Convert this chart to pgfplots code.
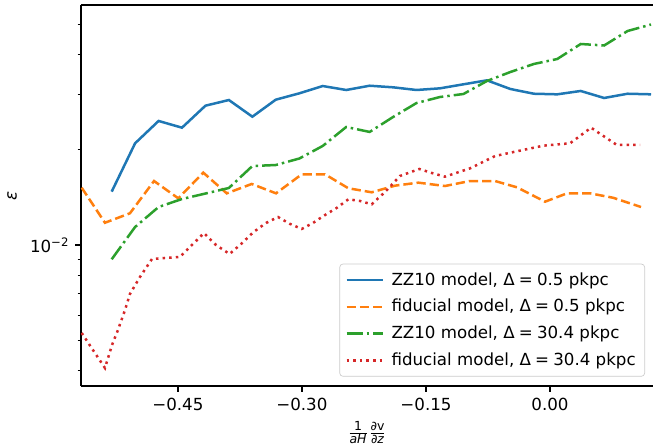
\documentclass[border=0pt]{standalone}
\usepackage{fontspec}
\setmainfont{DejaVu Sans}
\usepackage{pgfplots}
\pgfplotsset{compat=1.18}
\definecolor{tabblue}{HTML}{1F77B4}
\definecolor{taborange}{HTML}{FF7F0E}
\definecolor{tabgreen}{HTML}{2CA02C}
\definecolor{tabred}{HTML}{D62728}
\newcommand{\eqsp}{\hspace{0.25em}=\hspace{0.25em}}
\begin{document}
\begin{tikzpicture}
\begin{axis}[
  scale only axis,
  width=343.2pt, height=228.6pt,
  ymode=log,
  xmin=-0.5671, xmax=0.1245,
  ymin=0.003579, ymax=0.05748,
  axis y line*=left,
  axis line style={line width=0.8pt},
  xtick pos=left, ytick pos=left,
  tick align=outside,
  major tick length=3.5pt, minor tick length=2pt,
  every tick/.style={black, line width=0.8pt},
  every minor tick/.style={black, line width=0.6pt},
  xtick={-0.45,-0.3,-0.15,0},
  xticklabels={−0.45,−0.30,−0.15,0.00},
  ytick={0.01},
  yticklabels={10\textsuperscript{−2}},
  minor ytick={0.004,0.005,0.006,0.007,0.008,0.009,0.02,0.03,0.04,0.05},
  tick label style={font=\fontsize{10}{12}\selectfont},
  xlabel={$\frac{\mbox{\fontsize{7.5}{8}\selectfont 1}}{\mbox{\fontsize{7.5}{8}\selectfont\itshape aH}}\frac{\mbox{\fontsize{7.5}{8}\selectfont ∂v}}{\mbox{\fontsize{7.5}{8}\selectfont ∂\itshape z}}$},
  every axis x label/.style={at={(axis description cs:0.5,0)}, anchor=center, yshift=-27.9pt},
  ylabel={\itshape ε},
  every axis y label/.style={at={(axis description cs:0,0.5)}, anchor=center, xshift=-41.4pt, rotate=90},
  legend style={at={(1,0)}, anchor=south east, xshift=-4.8pt, yshift=5.6pt,
    draw=black!20, rounded corners=2pt, fill=white, fill opacity=0.8, text opacity=1,
    font=\fontsize{10}{12}\selectfont, row sep=3pt, column sep=2.6pt, inner xsep=3.4pt, inner ysep=3pt},
  legend cell align=left,
  legend image code/.code={\draw[#1] (0pt,0pt) -- (21.6pt,0pt);},
]
\addplot[tabblue, line width=1.5pt] coordinates {
(-0.5300,0.01475) (-0.5017,0.02098) (-0.4733,0.02469) (-0.4450,0.02351) (-0.4166,0.02760) (-0.3883,0.02876) (-0.3599,0.02547) (-0.3316,0.02883) (-0.3031,0.03020) (-0.2748,0.03185) (-0.2464,0.03094) (-0.2181,0.03192) (-0.1897,0.03155) (-0.1614,0.03094) (-0.1330,0.03132) (-0.1047,0.03225) (-0.0763,0.03320) (-0.0480,0.03117) (-0.0196,0.03011) (0.0087,0.02998) (0.0371,0.03072) (0.0654,0.02919) (0.0938,0.03011) (0.1221,0.02998)
};
\addlegendentry{ZZ10 model, Δ\eqsp 0.5 pkpc}
\addplot[taborange, line width=1.5pt, dash pattern=on 5.55pt off 2.4pt] coordinates {
(-0.5663,0.01518) (-0.5381,0.01176) (-0.5079,0.01260) (-0.4788,0.01594) (-0.4495,0.01405) (-0.4192,0.01694) (-0.3909,0.01457) (-0.3607,0.01560) (-0.3313,0.01457) (-0.3002,0.01674) (-0.2721,0.01674) (-0.2439,0.01512) (-0.2156,0.01468) (-0.1874,0.01541) (-0.1592,0.01575) (-0.1270,0.01537) (-0.0967,0.01594) (-0.0665,0.01594) (-0.0399,0.01522) (-0.0060,0.01371) (0.0206,0.01457) (0.0484,0.01457) (0.0762,0.01411) (0.1100,0.01319)
};
\addlegendentry{fiducial model, Δ\eqsp 0.5 pkpc}
\addplot[tabgreen, line width=1.5pt, dash pattern=on 9.6pt off 2.4pt on 1.5pt off 2.4pt] coordinates {
(-0.5300,0.00901) (-0.5017,0.01140) (-0.4733,0.01319) (-0.4450,0.01398) (-0.4166,0.01455) (-0.3883,0.01515) (-0.3599,0.01778) (-0.3316,0.01791) (-0.3031,0.01878) (-0.2748,0.02058) (-0.2464,0.02363) (-0.2181,0.02279) (-0.1897,0.02542) (-0.1614,0.02814) (-0.1330,0.02940) (-0.1047,0.03005) (-0.0763,0.03304) (-0.0480,0.03527) (-0.0196,0.03740) (0.0087,0.03878) (0.0371,0.04326) (0.0654,0.04279) (0.0938,0.04756) (0.1221,0.04986)
};
\addlegendentry{ZZ10 model, Δ\eqsp 30.4 pkpc}
\addplot[tabred, line width=1.5pt, dash pattern=on 1.5pt off 2.475pt] coordinates {
(-0.5663,0.005267) (-0.5526,0.004652) (-0.5381,0.004080) (-0.5296,0.004825) (-0.5224,0.005383) (-0.5139,0.006227) (-0.5079,0.006999) (-0.4958,0.007918) (-0.4813,0.009030) (-0.4655,0.009097) (-0.4474,0.009163) (-0.4329,0.01000) (-0.4184,0.01091) (-0.4039,0.01000) (-0.3875,0.009365) (-0.3736,0.01007) (-0.3585,0.01099) (-0.3434,0.01174) (-0.3289,0.01226) (-0.3144,0.01166) (-0.3002,0.01124) (-0.2866,0.01174) (-0.2721,0.01244) (-0.2579,0.01310) (-0.2439,0.01395) (-0.2297,0.01378) (-0.2156,0.01345) (-0.1995,0.01472) (-0.1814,0.01654) (-0.1580,0.01740) (-0.1430,0.01690) (-0.1270,0.01645) (-0.1125,0.01694) (-0.0967,0.01748) (-0.0665,0.01912) (-0.0423,0.01974) (-0.0081,0.02062) (0.0242,0.02098) (0.0496,0.02351) (0.0807,0.02073) (0.1088,0.02073)
};
\addlegendentry{fiducial model, Δ\eqsp 30.4 pkpc}
\end{axis}
\path (current axis.south west) ++(-48.6pt,-37.2pt) coordinate (bl);
\path (current axis.north east) ++(0pt,3pt) coordinate (tr);
\pgfresetboundingbox
\useasboundingbox (bl) rectangle (tr);
\end{tikzpicture}
\end{document}
